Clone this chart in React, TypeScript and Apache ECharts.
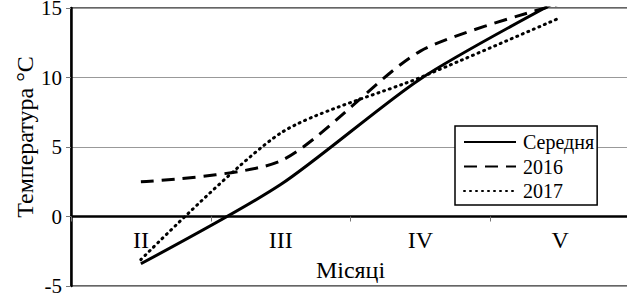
import React, { useEffect, useRef } from "react";
import * as echarts from "echarts";

const months = ["II", "III", "IV", "V"];
const seriesNames = ["Середня", "2016", "2017"];
const avgValues = [-3.4, 2.3, 9.9, 15.6];
const y2016Values = [2.5, 4.0, 11.9, 15.3];
const y2017Values = [-3.1, 6.0, 10.0, 14.3];
const yTicks = { min: -5, max: 15, interval: 5 };

const FONT = "'Liberation Serif', 'Times New Roman', serif";

export default function App() {
  const ref = useRef<HTMLDivElement>(null);
  useEffect(() => {
    if (!ref.current) return;
    const chart = echarts.init(ref.current, null, { renderer: "svg" });
    chart.setOption({
      animation: false,
      backgroundColor: "#fff",
      textStyle: { fontFamily: FONT, color: "#000" },
      grid: {
        left: 71,
        right: -3,
        top: 8,
        bottom: 7,
        show: true,
        borderColor: "#333",
        borderWidth: 1.5,
        outerBoundsMode: "none",
        containLabel: false,
      },
      graphic: [
        {
          type: "text",
          x: 290,
          y: -7,
          silent: true,
          style: {
            text: "Температура повітря (рр.)",
            fontFamily: FONT,
            fontSize: 24,
            fill: "#000",
            align: "center",
            verticalAlign: "bottom",
          },
        },
        {
          type: "text",
          x: 25,
          y: 137,
          rotation: Math.PI / 2,
          silent: true,
          style: {
            text: "Температура °C",
            fontFamily: FONT,
            fontSize: 24,
            fill: "#000",
            align: "center",
            verticalAlign: "middle",
          },
        },
      ],
      legend: {
        orient: "vertical",
        left: 455,
        top: 126,
        itemWidth: 52,
        itemHeight: 14,
        itemGap: 2.5,
        padding: [5, 3, 3, 8],
        backgroundColor: "#fff",
        borderColor: "#000",
        borderWidth: 1.5,
        borderRadius: 0,
        itemStyle: { color: "rgba(0,0,0,0)", borderColor: "rgba(0,0,0,0)", borderWidth: 0, opacity: 0 },
        textStyle: { fontFamily: FONT, fontSize: 20, color: "#000", lineHeight: 22, padding: [0, 0, 0, 2] },
        data: seriesNames,
      },
      xAxis: {
        type: "category",
        data: months,
        boundaryGap: true,
        axisLine: { onZero: true, lineStyle: { color: "#000", width: 2.5 } },
        axisTick: { show: true, length: 5, lineStyle: { color: "#777", width: 1 } },
        axisLabel: { fontFamily: FONT, fontSize: 24, color: "#000", margin: -58 },
        splitLine: { show: false },
        name: "Місяці",
        nameLocation: "middle",
        nameGap: -28,
        nameTextStyle: { fontFamily: FONT, fontSize: 24, color: "#000" },
      },
      yAxis: {
        type: "value",
        min: yTicks.min,
        max: yTicks.max,
        interval: yTicks.interval,
        axisLine: { show: true, lineStyle: { color: "#000", width: 2.5 } },
        axisTick: { show: true, length: 5, lineStyle: { color: "#777", width: 1 } },
        axisLabel: { fontFamily: FONT, fontSize: 21, color: "#000", margin: 9 },
        splitLine: { show: true, lineStyle: { color: "#999", width: 1 } },
      },
      series: [
        {
          name: seriesNames[0],
          type: "line",
          data: avgValues,
          smooth: 0.25,
          symbol: "none",
          lineStyle: { color: "#000", width: 3 },
          itemStyle: { color: "#000" },
          z: 4,
        },
        {
          name: seriesNames[1],
          type: "line",
          data: y2016Values,
          smooth: 0.25,
          symbol: "none",
          lineStyle: { color: "#000", width: 3, type: [13, 8] },
          itemStyle: { color: "#000" },
          z: 3,
        },
        {
          name: seriesNames[2],
          type: "line",
          data: y2017Values,
          smooth: 0.25,
          symbol: "none",
          lineStyle: { color: "#000", width: 3, type: [1, 5], cap: "round" },
          itemStyle: { color: "#000" },
          z: 3,
        },
      ],
    });
    return () => chart.dispose();
  }, []);
  return (
    <div
      ref={ref}
      style={{ position: "absolute", left: 0, top: 0, width: 627, height: 293 }}
    />
  );
}
